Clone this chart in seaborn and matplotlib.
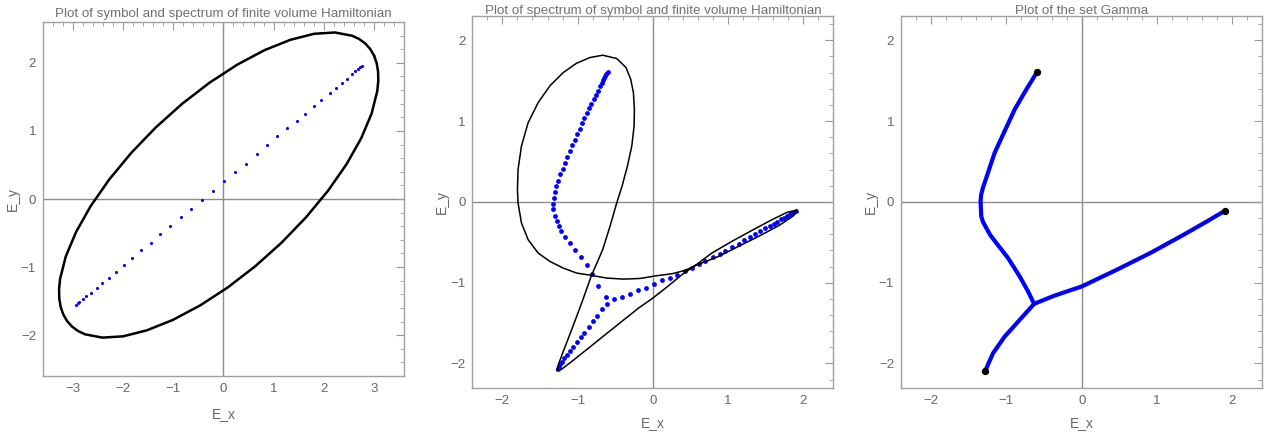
import numpy as np
import pandas as pd
import matplotlib
matplotlib.use('Agg')
import matplotlib.pyplot as plt
from matplotlib.ticker import MultipleLocator
import seaborn as sns

# panel 1 : symbol curve (closed ellipse) + spectrum of finite volume Hamiltonian
ell_x = [3.005, 2.929, 2.831, 2.710, 2.568, 2.224, 1.810, 1.338, 0.822, 0.279, -0.276, -0.826,
         -1.353, -1.842, -2.278, -2.647, -2.939, -3.145, -3.258, -3.278, -3.275, -3.247,
         -3.195, -3.119, -3.021, -2.900, -2.758, -2.414, -2.000, -1.528, -1.012, -0.469, 0.086,
         0.636, 1.163, 1.652, 2.088, 2.457, 2.749, 2.955, 3.068, 3.088, 3.085, 3.057, 3.005]
ell_y = [2.105, 2.202, 2.283, 2.349, 2.398, 2.446, 2.427, 2.339, 2.187, 1.975, 1.709, 1.397,
         1.049, 0.675, 0.287, -0.103, -0.484, -0.844, -1.173, -1.322, -1.459, -1.584,
         -1.695, -1.792, -1.873, -1.939, -1.988, -2.036, -2.017, -1.929, -1.777, -1.565, -1.299,
         -0.987, -0.639, -0.265, 0.123, 0.513, 0.894, 1.254, 1.583, 1.732, 1.869, 1.994, 2.105]
spec1_x = [-2.95, -2.91, -2.88, -2.81, -2.75, -2.65, -2.53, -2.42, -2.29, -2.15, -1.99, -1.82,
           -1.65, -1.45, -1.27, -1.07, -0.85, -0.64, -0.43, -0.2, 0.01, 0.23, 0.45, 0.67,
           0.87, 1.07, 1.27, 1.47, 1.63, 1.8, 1.95, 2.12, 2.25, 2.37, 2.47, 2.57, 2.63,
           2.69, 2.73, 2.77]
spec1_y = [-1.56, -1.53, -1.51, -1.47, -1.43, -1.38, -1.31, -1.24, -1.16, -1.07, -0.97, -0.87,
           -0.75, -0.65, -0.52, -0.39, -0.27, -0.14, -0.01, 0.12, 0.26, 0.39, 0.52, 0.66,
           0.79, 0.92, 1.04, 1.15, 1.25, 1.36, 1.46, 1.55, 1.63, 1.7, 1.77, 1.84, 1.88,
           1.91, 1.94, 1.95]

# panel 2 : symbol curve (closed) + spectrum
sym2_x = [1.906, 1.786, 1.586, 1.32, 1.053, 0.786, 0.56, 0.386, 0.208, 0.0, -0.192, -0.414,
          -0.636, -0.858, -1.08, -1.214, -1.28, -1.258, -1.192, -1.08, -0.947, -0.814, -0.74,
          -0.667, -0.569, -0.48, -0.409, -0.338, -0.28, -0.249, -0.245, -0.258, -0.294,
          -0.356, -0.48, -0.667, -0.836, -1.014, -1.192, -1.369, -1.525, -1.658, -1.747,
          -1.792, -1.8, -1.792, -1.747, -1.658, -1.525, -1.369, -1.192, -1.014, -0.814,
          -0.614, -0.392, -0.169, 0.053, 0.253, 0.431, 0.56, 0.875, 1.142, 1.409, 1.675,
          1.875, 1.906]
sym2_y = [-0.104, -0.129, -0.22, -0.352, -0.488, -0.633, -0.79, -0.902, -1.039, -1.191, -1.316,
          -1.481, -1.646, -1.812, -1.977, -2.072, -2.089, -2.019, -1.853, -1.584, -1.254, -0.906,
          -0.75, -0.592, -0.302, -0.013, 0.194, 0.442, 0.69, 0.938, 1.145, 1.352, 1.517,
          1.662, 1.774, 1.815, 1.786, 1.716, 1.6, 1.435, 1.228, 0.98, 0.69,
          0.401, 0.153, -0.013, -0.261, -0.468, -0.633, -0.737, -0.819, -0.881, -0.91,
          -0.943, -0.956, -0.948, -0.914, -0.89, -0.848, -0.79, -0.675, -0.55, -0.426, -0.294,
          -0.17, -0.104]
spec2_x = [-0.6, -0.618, -0.632, -0.645, -0.663, -0.68, -0.703, -0.734, -0.756, -0.787,
           -0.818, -0.849, -0.88, -0.912, -0.943, -0.974, -1.005, -1.036, -1.072, -1.107,
           -1.138, -1.169, -1.2, -1.232, -1.258, -1.285, -1.303, -1.32, -1.329, -1.334,
           -1.307, -1.28, -1.254, -1.223, -1.169, -1.103, -1.032, -0.956, -0.88, -0.805,
           -0.725, -0.627, -0.614,
           -0.68, -0.747, -0.8, -0.854, -0.912, -0.96, -1.014, -1.063, -1.107, -1.147,
           -1.183, -1.214, -1.236, -1.254, -1.267,
           -0.512, -0.405, -0.303, -0.196, -0.089, 0.017, 0.12, 0.222, 0.32, 0.422, 0.52,
           0.608, 0.697, 0.795, 0.888, 0.964, 1.053, 1.142, 1.217, 1.288, 1.364, 1.431,
           1.497, 1.555, 1.609, 1.657, 1.706, 1.746, 1.786, 1.822, 1.853, 1.88, 1.902]
spec2_y = [1.612, 1.588, 1.563, 1.538, 1.509, 1.472, 1.431, 1.373, 1.323, 1.269,
           1.216, 1.158, 1.096, 1.033, 0.971, 0.901, 0.835, 0.769, 0.698, 0.628,
           0.554, 0.479, 0.409, 0.339, 0.264, 0.194, 0.119, 0.049, -0.021, -0.09,
           -0.178, -0.236, -0.294, -0.36, -0.435, -0.509, -0.592, -0.683, -0.782, -0.89,
           -1.038, -1.183, -1.258,
           -1.328, -1.407, -1.477, -1.551, -1.618, -1.675, -1.733, -1.791, -1.841, -1.89,
           -1.932, -1.977, -2.01, -2.039, -2.064,
           -1.2, -1.175, -1.142, -1.092, -1.067, -1.022, -0.972, -0.947, -0.906, -0.856, -0.815,
           -0.774, -0.728, -0.687, -0.65, -0.612, -0.563, -0.517, -0.476, -0.435, -0.397, -0.36,
           -0.327, -0.294, -0.269, -0.244, -0.215, -0.195, -0.174, -0.153, -0.141, -0.124, -0.116]

# panel 3 : the set Gamma (three branches from the junction)
g_up_x = [-0.632, -0.712, -0.823, -0.978, -1.134, -1.215, -1.267, -1.31, -1.334, -1.343,
          -1.335, -1.312, -1.245, -1.156, -1.023, -0.889, -0.734, -0.592]
g_up_y = [-1.262, -1.109, -0.923, -0.695, -0.509, -0.41, -0.323, -0.25, -0.178, 0.008,
          0.09, 0.173, 0.359, 0.607, 0.876, 1.145, 1.393, 1.608]
g_low_x = [-0.632, -0.823, -1.023, -1.178, -1.28]
g_low_y = [-1.262, -1.46, -1.667, -1.874, -2.089]
g_right_x = [-0.632, -0.36, 0.0, 0.466, 0.911, 1.355, 1.666, 1.906]
g_right_y = [-1.262, -1.16, -1.047, -0.84, -0.633, -0.406, -0.24, -0.108]
end_x = [-0.592, 1.906, -1.28]
end_y = [1.608, -0.108, -2.089]

sns.set_theme(style='white')
plt.rcParams['font.family'] = ['Liberation Sans', 'DejaVu Sans']

GRAY = '#8c8c8c'
TXT = '#666666'


def style(ax, xlim, ylim, title, tpad, xpad, ypad):
    ax.set_xlim(*xlim)
    ax.set_ylim(*ylim)
    ax.axhline(0, color=GRAY, lw=1, zorder=0)
    ax.axvline(0, color=GRAY, lw=1, zorder=0)
    for a in (ax.xaxis, ax.yaxis):
        a.set_major_locator(MultipleLocator(1))
        a.set_minor_locator(MultipleLocator(0.2))
    ax.tick_params(which='both', direction='in', top=True, right=True,
                   color='#999999', labelcolor=TXT, labelsize=9.5)
    ax.tick_params(which='major', length=5.5, width=0.8, pad=5)
    ax.tick_params(which='minor', length=3, width=0.6)
    for s in ax.spines.values():
        s.set_color('#a0a0a0')
        s.set_linewidth(1)
    ax.set_title(title, fontsize=9.6, color='#707070', pad=tpad)
    ax.set_xlabel('E_x', fontsize=10, color=TXT, labelpad=xpad)
    ax.set_ylabel('E_y', fontsize=10, color=TXT, labelpad=ypad)


fig = plt.figure(figsize=(12.67, 4.33), dpi=100)
ax1 = fig.add_axes([0.0339, 0.1316, 0.2849, 0.8176])
ax2 = fig.add_axes([0.3728, 0.1046, 0.2849, 0.8584])
ax3 = fig.add_axes([0.7111, 0.1046, 0.2853, 0.8584])

sns.lineplot(x=ell_x, y=ell_y, sort=False, estimator=None, color='black', lw=1.8, ax=ax1)
sns.scatterplot(x=spec1_x, y=spec1_y, color='blue', s=5, linewidth=0, ax=ax1)
style(ax1, (-3.6, 3.6), (-2.6, 2.6), 'Plot of symbol and spectrum of finite volume Hamiltonian',
      3.5, 8.5, 0.5)

sns.lineplot(x=sym2_x, y=sym2_y, sort=False, estimator=None, color='black', lw=1.1, ax=ax2)
sns.scatterplot(x=spec2_x, y=spec2_y, color='blue', s=12, linewidth=0, ax=ax2)
style(ax2, (-2.4, 2.4), (-2.3, 2.3), 'Plot of spectrum of symbol and finite volume Hamiltonian',
      1.5, 7, 1)

for bx, by in [(g_up_x, g_up_y), (g_low_x, g_low_y), (g_right_x, g_right_y)]:
    sns.lineplot(x=bx, y=by, sort=False, estimator=None, color='blue', lw=3, ax=ax3)
sns.scatterplot(x=end_x, y=end_y, color='black', s=28, linewidth=0, zorder=5, ax=ax3)
style(ax3, (-2.4, 2.4), (-2.3, 2.3), 'Plot of the set Gamma', 1.5, 7, 1)

fig.savefig('out.png', dpi=100)
